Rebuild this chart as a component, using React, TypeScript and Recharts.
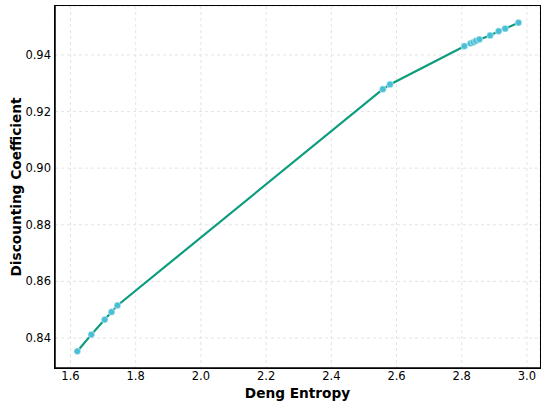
import { LineChart, Line, XAxis, YAxis, CartesianGrid } from 'recharts'

// ── Data ──────────────────────────────────────────────────────────────────────

const dengEntropy = [
  1.621, 1.664, 1.705, 1.726, 1.744, 2.558, 2.58, 2.808, 2.827, 2.836, 2.844, 2.854, 2.887, 2.913,
  2.933, 2.974,
]
const discounting = [
  0.8353, 0.8412, 0.8465, 0.8492, 0.8515, 0.9279, 0.9296, 0.9431, 0.9441, 0.9445, 0.945, 0.9455,
  0.9469, 0.9484, 0.9493, 0.9514,
]
const xTicks = [1.6, 1.8, 2.0, 2.2, 2.4, 2.6, 2.8, 3.0]
const yTicks = [0.84, 0.86, 0.88, 0.9, 0.92, 0.94]

const data = dengEntropy.map((x, i) => ({ x, y: discounting[i] }))

const FONT = '"DejaVu Sans", sans-serif'
const LINE = '#0c9d7e'
const MARKER = '#4bbfd6'
const FRAME = { stroke: '#000', strokeWidth: 1.5 }

const tickStyle = { fontSize: 11.5, fill: '#000', fontFamily: FONT }
const labelStyle = { fontSize: 13.7, fontWeight: 'bold', fill: '#000', fontFamily: FONT }

// plot box: margin.left + y axis width, margin.top, etc.
const PLOT = { left: 55, top: 6, width: 485, height: 362 }

export default function App() {
  return (
    <div style={{ position: 'absolute', left: 0, top: 0, width: 550, height: 406, fontFamily: FONT }}>
      <LineChart width={550} height={406} data={data} margin={{ top: 6, right: 10, bottom: 0, left: 0 }}>
        <CartesianGrid strokeDasharray="3 3" stroke="#e4e4e4" />
        <XAxis
          dataKey="x"
          type="number"
          domain={[1.5525, 3.04]}
          ticks={xTicks}
          tickFormatter={(v) => Number(v).toFixed(1)}
          height={38}
          tickSize={0}
          tickMargin={4}
          tick={tickStyle}
          axisLine={FRAME}
          allowDataOverflow
          label={{ value: 'Deng Entropy', position: 'insideBottom', offset: 8, ...labelStyle }}
        />
        <YAxis
          dataKey="y"
          type="number"
          domain={[0.8294, 0.9573]}
          ticks={yTicks}
          tickFormatter={(v) => Number(v).toFixed(2)}
          width={55}
          tickSize={0}
          tickMargin={4}
          tick={tickStyle}
          axisLine={FRAME}
          allowDataOverflow
          label={{
            value: 'Discounting Coefficient',
            angle: -90,
            position: 'insideLeft',
            offset: 16,
            ...labelStyle,
            style: { textAnchor: 'middle' },
          }}
        />
        <Line
          dataKey="y"
          type="linear"
          stroke={LINE}
          strokeWidth={2.2}
          dot={{ r: 3.4, fill: MARKER, stroke: '#fff', strokeWidth: 0.5, fillOpacity: 1 }}
          isAnimationActive={false}
        />
      </LineChart>
      {/* box round the plot area (top and right spines) */}
      <div
        style={{
          position: 'absolute',
          left: PLOT.left - 0.75,
          top: PLOT.top - 0.75,
          width: PLOT.width + 1.5,
          height: PLOT.height + 1.5,
          border: '1.5px solid #000',
          boxSizing: 'border-box',
          pointerEvents: 'none',
        }}
      />
    </div>
  )
}
